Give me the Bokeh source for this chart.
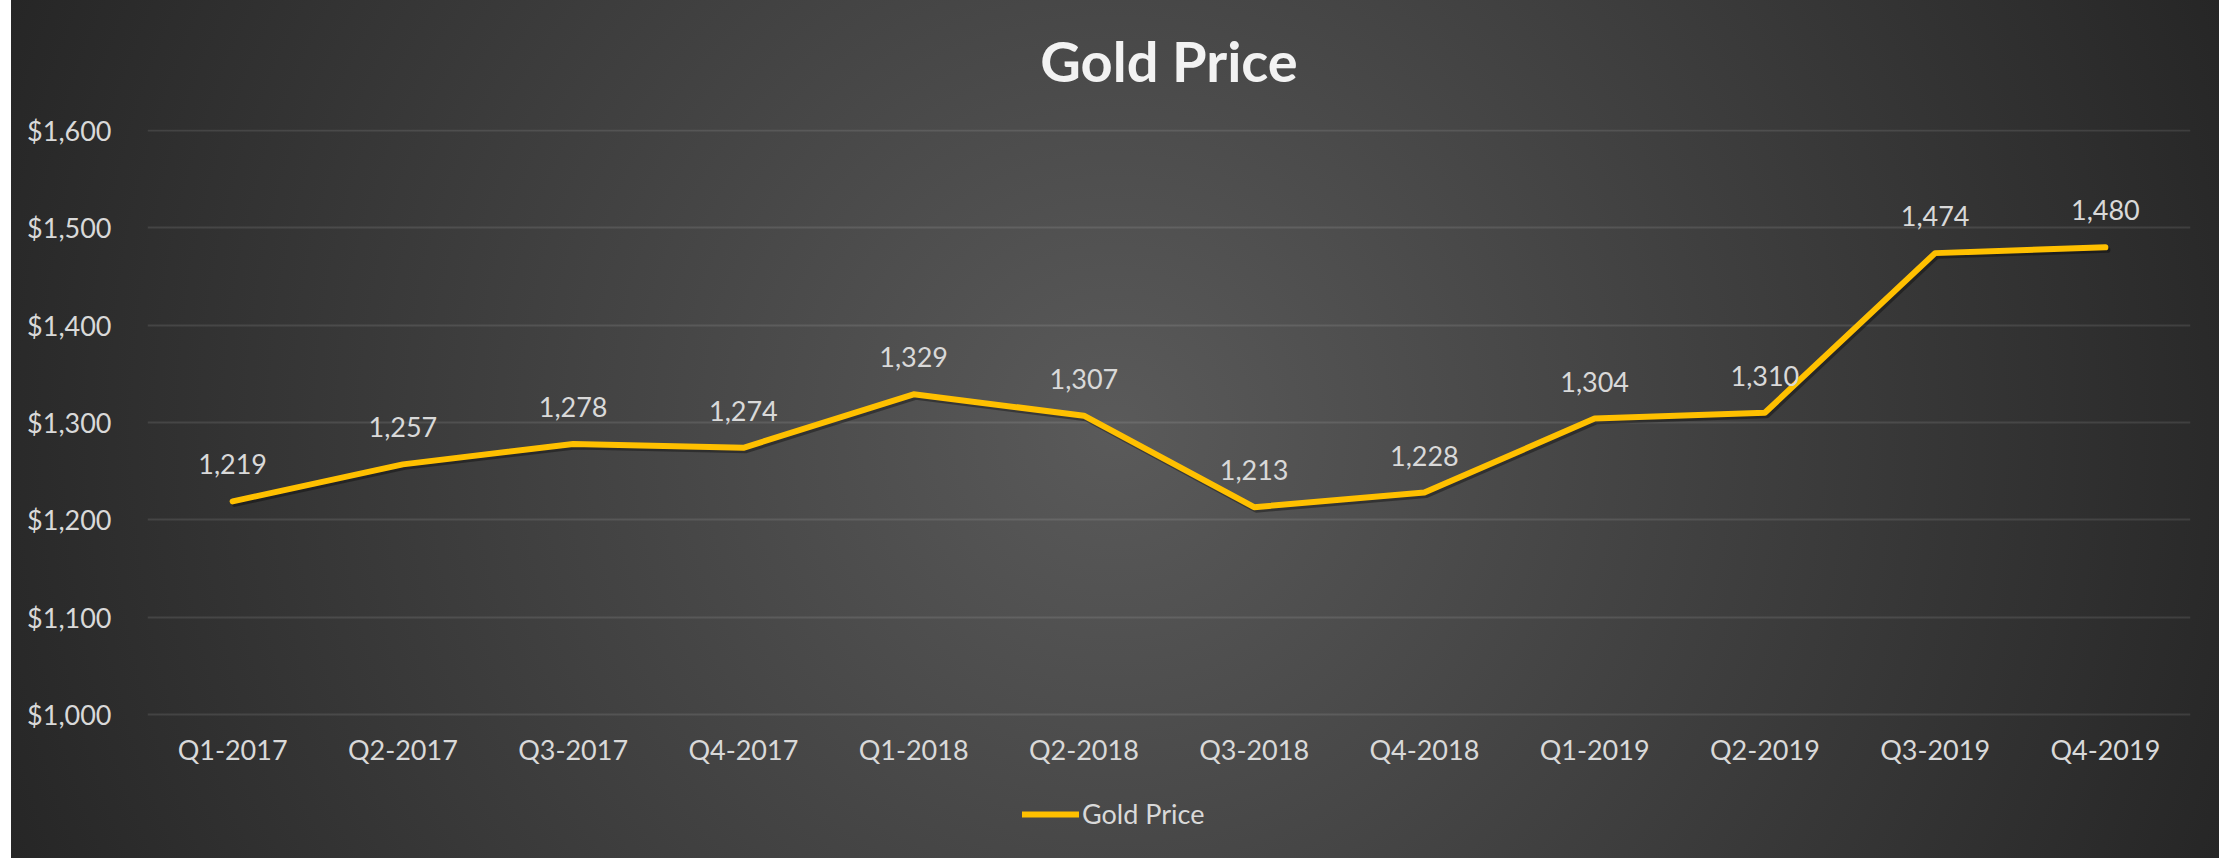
from bokeh.plotting import figure
from bokeh.models import (ColumnDataSource, FactorRange, Range1d, FixedTicker,
                          NumeralTickFormatter, Legend, LegendItem)
from bokeh.transform import dodge
from bokeh.core.properties import value
from bokeh.embed import file_html
from bokeh.resources import INLINE

quarters = ["Q1-2017", "Q2-2017", "Q3-2017", "Q4-2017",
            "Q1-2018", "Q2-2018", "Q3-2018", "Q4-2018",
            "Q1-2019", "Q2-2019", "Q3-2019", "Q4-2019"]
prices = [1219, 1257, 1278, 1274, 1329, 1307, 1213, 1228, 1304, 1310, 1474, 1480]
y_ticks = [1000, 1100, 1200, 1300, 1400, 1500, 1600]
series_name = "Gold Price"

source = ColumnDataSource(dict(q=quarters, price=prices,
                               label=[f"{v:,}" for v in prices]))

FONT = "Lato"
TXT = "#D9D9D9"

# axis scale: 602 value units over 586 px; frame extended downward to hold the legend
Y_MIN_AXIS, Y_MAX = 999, 1601
FRAME_H = 722
y_low = Y_MAX - FRAME_H * (Y_MAX - Y_MIN_AXIS) / 586

p = figure(frame_width=2043, frame_height=FRAME_H, output_backend="svg", toolbar_location=None,
           x_range=FactorRange(*quarters, range_padding=0),
           y_range=Range1d(y_low, Y_MAX),
           min_border_left=136, min_border_right=29,
           min_border_top=139, min_border_bottom=20)

p.background_fill_alpha = 0
p.border_fill_alpha = 0
p.outline_line_color = None
p.styles = {"background": "radial-gradient(circle 1185px at 1104px 441px, #5a5a5a 0%, #262626 100%)",
            "margin-left": "11px", "margin-top": "-11px"}

# title
p.title.text = "Gold Price"
p.title.align = "center"
p.title.offset = -53
p.title.text_font = FONT
p.title.text_font_style = "bold"
p.title.text_font_size = "56px"
p.title.text_color = "#F2F2F2"
p.title.standoff = 71

# axes
p.yaxis.ticker = FixedTicker(ticks=y_ticks)
p.yaxis.formatter = NumeralTickFormatter(format="$0,0")
p.xaxis.fixed_location = 1000
for ax in (p.xaxis[0], p.yaxis[0]):
    ax.axis_line_color = None
    ax.major_tick_line_color = None
    ax.minor_tick_line_color = None
    ax.major_label_text_font = FONT
    ax.major_label_text_font_size = "27px"
    ax.major_label_text_color = TXT
p.yaxis.major_label_standoff = 30
p.xaxis.major_label_standoff = 12

p.xgrid.grid_line_color = None
p.ygrid.ticker = FixedTicker(ticks=y_ticks)
p.ygrid.grid_line_color = "#ffffff"
p.ygrid.grid_line_alpha = 0.1
p.ygrid.grid_line_width = 2

# shadow
p.line(x=dodge("q", 0.012, range=p.x_range), y=dodge("price", -2.6), source=source,
       line_color="black", line_alpha=0.35, line_width=6,
       line_join="round", line_cap="round")
r = p.line(x="q", y="price", source=source, line_color="#FFC000", line_width=6,
           line_join="round", line_cap="round")

p.text(x="q", y="price", text="label", source=source,
       text_font=value(FONT), text_font_size="27px", text_color=TXT,
       text_align="center", text_baseline="alphabetic", y_offset=-37)

legend = Legend(items=[LegendItem(label=series_name, renderers=[r])],
                location=(875, 21), orientation="horizontal",
                glyph_width=57, glyph_height=32, label_height=32, label_standoff=3,
                label_text_font=FONT, label_text_font_size="27px",
                label_text_color=TXT, background_fill_alpha=0,
                border_line_color=None, padding=0, margin=0)
p.add_layout(legend)

open("out.html", "w").write(file_html(p, INLINE))
